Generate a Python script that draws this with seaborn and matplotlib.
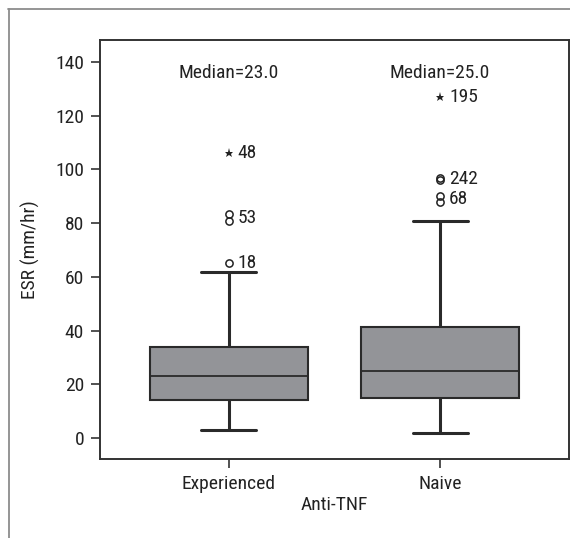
import matplotlib
matplotlib.use("Agg")
import matplotlib.pyplot as plt
import pandas as pd
import seaborn as sns
from matplotlib.lines import Line2D

# values
groups = ["Experienced", "Naive"]
# whisker low, Q1, median, Q3, whisker high
summary_experienced = [3, 14, 23, 34, 62]
summary_naive = [2, 15, 25, 41.5, 81]

# circles = outliers, stars = extremes
outliers_experienced = [65, 81, 83.5]
outliers_naive = [87.8, 90, 96, 96.8]
extremes_experienced = [106]
extremes_naive = [127]

# case numbers next to the marks: (y, label)
case_labels_experienced = [(106, "48"), (82, "53"), (65, "18")]
case_labels_naive = [(127, "195"), (96.5, "242"), (89, "68")]

sns.set_style("ticks")
plt.rcParams["font.family"] = ["Roboto Condensed", "Liberation Sans Narrow", "Roboto", "DejaVu Sans"]
fs = 14
plt.rcParams["font.size"] = fs

df = pd.DataFrame({
    "group": [groups[0]] * len(summary_experienced) + [groups[1]] * len(summary_naive),
    "esr": summary_experienced + summary_naive,
})

fig = plt.figure(figsize=(5.7, 5.38), dpi=100)
ax = fig.add_axes([0.1754, 0.1468, 0.8228, 0.7788])

line_c = "#2a2a2a"
sns.boxplot(
    data=df, x="group", y="esr", order=groups,
    whis=(0, 100), showfliers=False, width=0.75,
    color="#939498", saturation=1, linecolor=line_c, linewidth=1.5,
    capwidths=0.26, ax=ax,
    whiskerprops={"color": line_c, "linewidth": 2.2},
    capprops={"color": line_c, "linewidth": 2.2},
    medianprops={"color": line_c, "linewidth": 1.3},
)

text_kw = dict(fontsize=fs, color="#222222")
for i, (outs, exts, labels, summ) in enumerate([
    (outliers_experienced, extremes_experienced, case_labels_experienced, summary_experienced),
    (outliers_naive, extremes_naive, case_labels_naive, summary_naive),
]):
    ax.plot([i] * len(outs), outs, "o", ms=5.2, mfc="none", mec="#222222", mew=1.1)
    ax.plot([i] * len(exts), exts, "*", ms=6.5, color="#222222", mew=0)
    for y, lab in labels:
        ax.annotate(lab, (i, y), xytext=(6.5, 0), textcoords="offset points",
                    va="center", ha="left", **text_kw)
    ax.text(i, 136, f"Median={summ[2]:.1f}", ha="center", va="center", **text_kw)

ax.set_xlim(-0.61, 1.61)
ax.set_ylim(-7.8, 148.2)
ax.set_yticks(range(0, 141, 20))
ax.set_xlabel("Anti-TNF", fontsize=fs, color="#222222", labelpad=2)
ax.set_ylabel("ESR (mm/hr)", fontsize=fs, color="#222222", labelpad=11)
ax.tick_params(length=6.5, width=1.2, color="#333333", labelsize=fs,
               labelcolor="#222222", pad=5)
for sp in ax.spines.values():
    sp.set_visible(True)
    sp.set_linewidth(1.4)
    sp.set_color("#333333")

# outer panel frame (top and left edges only)
fig.add_artist(Line2D([8 / 570, 1], [1 - 8.5 / 538] * 2, transform=fig.transFigure,
                      color="#8c8c8c", lw=1.3))
fig.add_artist(Line2D([8.5 / 570] * 2, [0, 1 - 8.5 / 538], transform=fig.transFigure,
                      color="#8c8c8c", lw=1.3))

fig.savefig("out.png", dpi=100)
